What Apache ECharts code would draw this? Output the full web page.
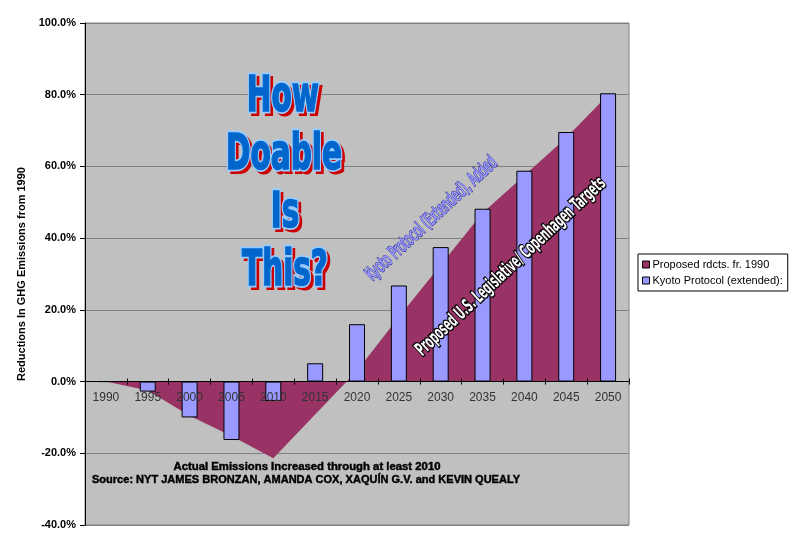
<!DOCTYPE html>
<html><head><meta charset="utf-8">
<script src="https://cdn.jsdelivr.net/npm/echarts@6/dist/echarts.min.js"></script>
<style>html,body{margin:0;padding:0;background:#fff}#chart{width:800px;height:547px}</style>
</head><body><div id="chart"></div>
<script>
// ---- data ----
const years = ['1990','1995','2000','2005','2010','2015','2020','2025','2030','2035','2040','2045','2050'];
const proposedReductions = [0, -2.5, -9.5, -15.2, -21.4, -9.2, 3, 18, 32.5, 47, 57.5, 68, 80];
const kyotoExtended = [0, -2.8, -10, -16.3, -5.4, 5.1, 16, 26.8, 37.5, 48.2, 58.8, 69.6, 80.4];
const seriesNames = ['Proposed rdcts. fr. 1990', 'Kyoto Protocol (extended):'];
const yMin = -40, yMax = 100, yStep = 20;
const yAxisTitle = 'Reductions In GHG Emissions from 1990';
const bigTitleLines = ['How', 'Doable', 'Is', 'This?'];
const kyotoNote = 'Kyoto Protocol (Extended), Added';
const proposedNote = 'Proposed U.S. Legislative/ Copenhagen Targets';
const footLine1 = 'Actual Emissions Increased through at least 2010';
const footLine2 = 'Source: NYT JAMES BRONZAN, AMANDA COX, XAQUÍN G.V. and KEVIN QUEALY';

// ---- layout ----
const GRID = {left: 85, right: 171, top: 23, bottom: 22};
const gridH = 547 - GRID.top - GRID.bottom;
const zeroOffset = -((0 - yMin) / (yMax - yMin)) * gridH; // move category axis up to the 0 line

// ---- helpers ----
const FF = '"Liberation Sans", Arial, sans-serif';
const NARROW = '"Liberation Sans Narrow", "DejaVu Sans Condensed", "Liberation Sans", sans-serif';
const mctx = document.createElement('canvas').getContext('2d');
function fit(text, font, target) { mctx.font = font; return target / mctx.measureText(text).width; }
const deg = Math.PI / 180;
const C = {textAlign:'center', align:'center', textVerticalAlign:'middle', verticalAlign:'middle'};

const graphics = [];
// Big title
const bigFont = 'bold 50px ' + NARROW;
const bigScale = fit('Doable', bigFont, 116);
const bigCenters = [[283, 98], [284, 156], [285, 214], [285, 272]];
bigTitleLines.forEach((t, i) => {
  const [cx, cy] = bigCenters[i];
  graphics.push({type:'text', x: cx + 3, y: cy + 3, scaleX: bigScale, z: 100,
    style:Object.assign({text:t, font:bigFont, fill:'#CC0000', stroke:'#CC0000', lineWidth:4}, C)});
  graphics.push({type:'text', x: cx, y: cy, scaleX: bigScale, z: 101,
    style:Object.assign({text:t, font:bigFont, fill:'#99CCFF', stroke:'#99CCFF', lineWidth:5}, C)});
  graphics.push({type:'text', x: cx, y: cy, scaleX: bigScale, z: 102,
    style:Object.assign({text:t, font:bigFont, fill:'#0066CC', stroke:'#0066CC', lineWidth:1.5}, C)});
});
// Kyoto diagonal
const kFont = '19px ' + NARROW;
const kScale = fit(kyotoNote, kFont, 172);
graphics.push({type:'text', x: 432, y: 219, rotation: 43 * deg, scaleX: kScale, z: 100,
  style:Object.assign({text:kyotoNote, font:kFont, fill:'#9999FF', stroke:'#333399', lineWidth:1.6}, C)});
graphics.push({type:'text', x: 432, y: 219, rotation: 43 * deg, scaleX: kScale, z: 101,
  style:Object.assign({text:kyotoNote, font:kFont, fill:'#9999FF'}, C)});
// Proposed diagonal
const pFont = 'bold 19px ' + NARROW;
const pScale = fit(proposedNote, pFont, 252);
graphics.push({type:'text', x: 511, y: 267, rotation: 43 * deg, scaleX: pScale, z: 100,
  style:Object.assign({text:proposedNote, font:pFont, fill:'#000', stroke:'#000', lineWidth:3}, C)});
graphics.push({type:'text', x: 511, y: 267, rotation: 43 * deg, scaleX: pScale, z: 101,
  style:Object.assign({text:proposedNote, font:pFont, fill:'#fff'}, C)});
// footer
const fFont = 'bold 10px ' + FF;
graphics.push({type:'text', x: 307, y: 467, scaleX: fit(footLine1, fFont, 267), z: 100,
  style:Object.assign({text:footLine1, font:fFont, fill:'#000', stroke:'#000', lineWidth:0.4}, C)});
graphics.push({type:'text', x: 306, y: 480, scaleX: fit(footLine2, fFont, 428), z: 100,
  style:Object.assign({text:footLine2, font:fFont, fill:'#000', stroke:'#000', lineWidth:0.4}, C)});

const chart = echarts.init(document.getElementById('chart'), null, {renderer:'canvas'});
chart.setOption({
  animation: false,
  backgroundColor: '#fff',
  textStyle: {fontFamily: FF},
  grid: Object.assign({show: true, backgroundColor: '#C0C0C0', borderColor: '#808080', borderWidth: 1}, GRID),
  legend: {
    orient: 'vertical', left: 638, top: 254,
    padding: [5, 5, 5, 4], itemGap: 5, itemWidth: 7, itemHeight: 7,
    backgroundColor: '#fff', borderColor: '#000', borderWidth: 1,
    textStyle: {fontSize: 11, color: '#000', fontFamily: FF, padding: [0, 0, 0, -2]},
    data: [
      {name: seriesNames[0], icon: 'rect', itemStyle: {color: '#993366', borderColor: '#000', borderWidth: 1}},
      {name: seriesNames[1], icon: 'rect', itemStyle: {color: '#9999FF', borderColor: '#000', borderWidth: 1}}
    ]
  },
  xAxis: [{
    type: 'category', data: years, boundaryGap: true, position: 'bottom', offset: zeroOffset, z: 10,
    axisLine: {onZero: false, lineStyle: {color: '#000', width: 1}},
    axisTick: {show: true, length: 3, lineStyle: {color: '#000'}},
    axisLabel: {color: '#333', fontSize: 12, margin: 10, fontFamily: FF},
    splitLine: {show: false}
  }, {
    type: 'category', data: years, boundaryGap: true, position: 'bottom', offset: zeroOffset, z: 10,
    axisLine: {show: false, onZero: false},
    axisTick: {show: true, inside: true, length: 3, lineStyle: {color: '#000'}},
    axisLabel: {show: false}, splitLine: {show: false}
  }],
  yAxis: {
    type: 'value', min: yMin, max: yMax, interval: yStep,
    name: yAxisTitle, nameLocation: 'middle', nameGap: 57, nameRotate: 90,
    nameTextStyle: {fontSize: 11, fontWeight: 'bold', color: '#000', fontFamily: FF},
    axisLine: {show: true, lineStyle: {color: '#000'}},
    axisTick: {show: true, length: 5, lineStyle: {color: '#000'}},
    axisLabel: {formatter: v => v.toFixed(1) + '%', fontSize: 11, fontWeight: 'bold', color: '#000', margin: 9},
    splitLine: {show: true, lineStyle: {color: '#808080', width: 1}}
  },
  series: [{
    name: seriesNames[0], type: 'line', data: proposedReductions,
    symbol: 'none', lineStyle: {width: 0, color: '#993366'},
    itemStyle: {color: '#993366'},
    areaStyle: {color: '#993366', opacity: 1}, z: 2
  }, {
    name: seriesNames[1], type: 'bar', data: kyotoExtended, barWidth: 16,
    itemStyle: {color: '#9999FF', borderColor: '#000', borderWidth: 1}, z: 3
  }],
  graphic: graphics
});
</script>
</body></html>
